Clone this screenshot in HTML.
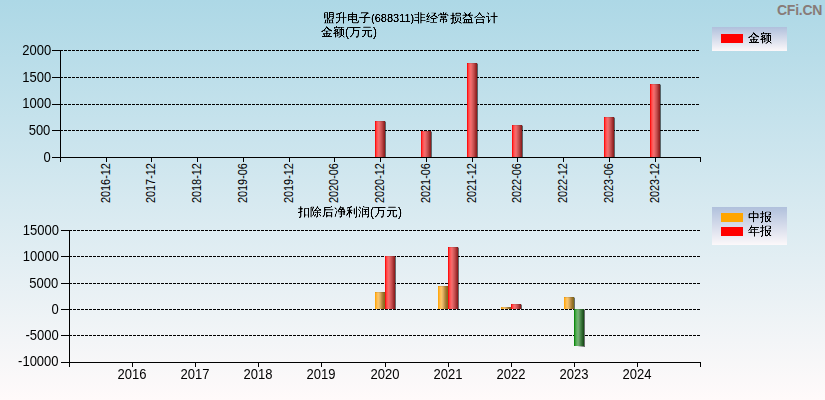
<!DOCTYPE html>
<html><head><meta charset="utf-8"><style>
html,body{margin:0;padding:0;width:825px;height:400px;overflow:hidden;}
body{position:relative;font-family:"Liberation Sans", sans-serif;color:#000;}
svg{position:absolute;left:0;top:0;}
.t{position:absolute;white-space:nowrap;line-height:1;}
.c{filter:url(#sh);}
.r{text-align:right;}
.rot{transform-origin:0 0;transform:rotate(-90deg) scaleX(0.905);}
.sx{transform-origin:100% 0;transform:scaleX(0.93);}
.yr{transform-origin:50% 0;transform:scaleX(0.93);text-align:center;width:40px;}
</style></head><body>
<svg width="825" height="400" shape-rendering="crispEdges">
<defs>
<linearGradient id="bg" x1="0" y1="0" x2="0" y2="1"><stop offset="0" stop-color="#add8e6"/><stop offset="1" stop-color="#fffafa"/></linearGradient>
<linearGradient id="lg" x1="0" y1="0" x2="0" y2="1"><stop offset="0" stop-color="#b0c0dc"/><stop offset="1" stop-color="#fcf8fa"/></linearGradient>
<linearGradient id="gr" x1="0" y1="0" x2="1" y2="0"><stop offset="0.05" stop-color="#ff1010"/><stop offset="0.15" stop-color="#ff4040"/><stop offset="0.25" stop-color="#ff5858"/><stop offset="0.35" stop-color="#f86868"/><stop offset="0.45" stop-color="#e86868"/><stop offset="0.55" stop-color="#d85c5c"/><stop offset="0.65" stop-color="#c85050"/><stop offset="0.75" stop-color="#b84040"/><stop offset="0.85" stop-color="#a03030"/><stop offset="0.95" stop-color="#902020"/></linearGradient>
<linearGradient id="go" x1="0" y1="0" x2="1" y2="0"><stop offset="0.05" stop-color="#ffa810"/><stop offset="0.15" stop-color="#ffb438"/><stop offset="0.25" stop-color="#ffc058"/><stop offset="0.35" stop-color="#fac468"/><stop offset="0.45" stop-color="#e8b868"/><stop offset="0.55" stop-color="#d8a858"/><stop offset="0.65" stop-color="#c09048"/><stop offset="0.75" stop-color="#a88038"/><stop offset="0.85" stop-color="#987028"/><stop offset="0.95" stop-color="#807020"/></linearGradient>
<linearGradient id="gg" x1="0" y1="0" x2="1" y2="0"><stop offset="0.05" stop-color="#0e8a10"/><stop offset="0.15" stop-color="#40a040"/><stop offset="0.25" stop-color="#5aae5a"/><stop offset="0.35" stop-color="#6cb26c"/><stop offset="0.45" stop-color="#70aa70"/><stop offset="0.55" stop-color="#609860"/><stop offset="0.65" stop-color="#4a884a"/><stop offset="0.75" stop-color="#3a743a"/><stop offset="0.85" stop-color="#2a602a"/><stop offset="0.95" stop-color="#1a501a"/></linearGradient>
<filter id="sh" x="-5%" y="-20%" width="110%" height="140%"><feComponentTransfer><feFuncA type="linear" slope="2.2" intercept="-0.35"/></feComponentTransfer></filter>
<linearGradient id="sg" x1="0" y1="0" x2="1" y2="0"><stop offset="0.3" stop-color="#000" stop-opacity="0"/><stop offset="1" stop-color="#000" stop-opacity="0.6"/></linearGradient>
</defs>
<rect x="0" y="0" width="825" height="400" fill="url(#bg)"/>
<line x1="60" y1="50.5" x2="700" y2="50.5" stroke="#000" stroke-dasharray="3 1"/>
<line x1="60" y1="77.5" x2="700" y2="77.5" stroke="#000" stroke-dasharray="3 1"/>
<line x1="60" y1="104.5" x2="700" y2="104.5" stroke="#000" stroke-dasharray="3 1"/>
<line x1="60" y1="130.5" x2="700" y2="130.5" stroke="#000" stroke-dasharray="3 1"/>
<line x1="52" y1="50.5" x2="60" y2="50.5" stroke="#000"/>
<line x1="52" y1="77.5" x2="60" y2="77.5" stroke="#000"/>
<line x1="52" y1="104.5" x2="60" y2="104.5" stroke="#000"/>
<line x1="52" y1="130.5" x2="60" y2="130.5" stroke="#000"/>
<line x1="52" y1="157.5" x2="60" y2="157.5" stroke="#000"/>
<line x1="60" y1="157.5" x2="701" y2="157.5" stroke="#000"/>
<line x1="60.5" y1="50" x2="60.5" y2="162" stroke="#000"/>
<line x1="106.5" y1="157" x2="106.5" y2="162" stroke="#000"/>
<line x1="151.5" y1="157" x2="151.5" y2="162" stroke="#000"/>
<line x1="197.5" y1="157" x2="197.5" y2="162" stroke="#000"/>
<line x1="243.5" y1="157" x2="243.5" y2="162" stroke="#000"/>
<line x1="289.5" y1="157" x2="289.5" y2="162" stroke="#000"/>
<line x1="334.5" y1="157" x2="334.5" y2="162" stroke="#000"/>
<line x1="380.5" y1="157" x2="380.5" y2="162" stroke="#000"/>
<line x1="426.5" y1="157" x2="426.5" y2="162" stroke="#000"/>
<line x1="472.5" y1="157" x2="472.5" y2="162" stroke="#000"/>
<line x1="517.5" y1="157" x2="517.5" y2="162" stroke="#000"/>
<line x1="563.5" y1="157" x2="563.5" y2="162" stroke="#000"/>
<line x1="609.5" y1="157" x2="609.5" y2="162" stroke="#000"/>
<line x1="655.5" y1="157" x2="655.5" y2="162" stroke="#000"/>
<line x1="700.5" y1="157" x2="700.5" y2="162" stroke="#000"/>
<rect x="385" y="122" width="1" height="35" fill="#000" fill-opacity="0.55"/>
<rect x="385" y="121" width="1" height="1" fill="#000" fill-opacity="0.2"/>
<rect x="375" y="121" width="10" height="36" fill="url(#gr)"/>
<rect x="375" y="121" width="10" height="1" fill="#000" fill-opacity="0.08"/>
<rect x="431" y="132" width="1" height="25" fill="#000" fill-opacity="0.55"/>
<rect x="431" y="131" width="1" height="1" fill="#000" fill-opacity="0.2"/>
<rect x="421" y="131" width="10" height="26" fill="url(#gr)"/>
<rect x="421" y="131" width="10" height="1" fill="#000" fill-opacity="0.08"/>
<rect x="477" y="64" width="1" height="93" fill="#000" fill-opacity="0.55"/>
<rect x="477" y="63" width="1" height="1" fill="#000" fill-opacity="0.2"/>
<rect x="467" y="63" width="10" height="94" fill="url(#gr)"/>
<rect x="467" y="63" width="10" height="1" fill="#000" fill-opacity="0.08"/>
<rect x="522" y="126" width="1" height="31" fill="#000" fill-opacity="0.55"/>
<rect x="522" y="125" width="1" height="1" fill="#000" fill-opacity="0.2"/>
<rect x="512" y="125" width="10" height="32" fill="url(#gr)"/>
<rect x="512" y="125" width="10" height="1" fill="#000" fill-opacity="0.08"/>
<rect x="614" y="118" width="1" height="39" fill="#000" fill-opacity="0.55"/>
<rect x="614" y="117" width="1" height="1" fill="#000" fill-opacity="0.2"/>
<rect x="604" y="117" width="10" height="40" fill="url(#gr)"/>
<rect x="604" y="117" width="10" height="1" fill="#000" fill-opacity="0.08"/>
<rect x="660" y="85" width="1" height="72" fill="#000" fill-opacity="0.55"/>
<rect x="660" y="84" width="1" height="1" fill="#000" fill-opacity="0.2"/>
<rect x="650" y="84" width="10" height="73" fill="url(#gr)"/>
<rect x="650" y="84" width="10" height="1" fill="#000" fill-opacity="0.08"/>
<line x1="69" y1="230.5" x2="700" y2="230.5" stroke="#000" stroke-dasharray="3 1"/>
<line x1="69" y1="256.5" x2="700" y2="256.5" stroke="#000" stroke-dasharray="3 1"/>
<line x1="69" y1="283.5" x2="700" y2="283.5" stroke="#000" stroke-dasharray="3 1"/>
<line x1="69" y1="309.5" x2="700" y2="309.5" stroke="#000" stroke-dasharray="3 1"/>
<line x1="69" y1="335.5" x2="700" y2="335.5" stroke="#000" stroke-dasharray="3 1"/>
<line x1="61" y1="230.5" x2="69" y2="230.5" stroke="#000"/>
<line x1="61" y1="256.5" x2="69" y2="256.5" stroke="#000"/>
<line x1="61" y1="283.5" x2="69" y2="283.5" stroke="#000"/>
<line x1="61" y1="309.5" x2="69" y2="309.5" stroke="#000"/>
<line x1="61" y1="335.5" x2="69" y2="335.5" stroke="#000"/>
<line x1="61" y1="362.5" x2="69" y2="362.5" stroke="#000"/>
<line x1="69" y1="362.5" x2="701" y2="362.5" stroke="#000"/>
<line x1="69.5" y1="230" x2="69.5" y2="367" stroke="#000"/>
<line x1="132.5" y1="362" x2="132.5" y2="367" stroke="#000"/>
<line x1="195.5" y1="362" x2="195.5" y2="367" stroke="#000"/>
<line x1="258.5" y1="362" x2="258.5" y2="367" stroke="#000"/>
<line x1="321.5" y1="362" x2="321.5" y2="367" stroke="#000"/>
<line x1="385.5" y1="362" x2="385.5" y2="367" stroke="#000"/>
<line x1="448.5" y1="362" x2="448.5" y2="367" stroke="#000"/>
<line x1="511.5" y1="362" x2="511.5" y2="367" stroke="#000"/>
<line x1="574.5" y1="362" x2="574.5" y2="367" stroke="#000"/>
<line x1="637.5" y1="362" x2="637.5" y2="367" stroke="#000"/>
<line x1="700.5" y1="362" x2="700.5" y2="367" stroke="#000"/>
<rect x="385" y="293" width="1" height="16" fill="#000" fill-opacity="0.55"/>
<rect x="385" y="292" width="1" height="1" fill="#000" fill-opacity="0.2"/>
<rect x="375" y="292" width="10" height="17" fill="url(#go)"/>
<rect x="375" y="292" width="10" height="1" fill="#000" fill-opacity="0.08"/>
<rect x="395" y="257" width="1" height="52" fill="#000" fill-opacity="0.55"/>
<rect x="395" y="256" width="1" height="1" fill="#000" fill-opacity="0.2"/>
<rect x="385" y="256" width="10" height="53" fill="url(#gr)"/>
<rect x="385" y="256" width="10" height="1" fill="#000" fill-opacity="0.08"/>
<rect x="448" y="287" width="1" height="22" fill="#000" fill-opacity="0.55"/>
<rect x="448" y="286" width="1" height="1" fill="#000" fill-opacity="0.2"/>
<rect x="438" y="286" width="10" height="23" fill="url(#go)"/>
<rect x="438" y="286" width="10" height="1" fill="#000" fill-opacity="0.08"/>
<rect x="458" y="248" width="1" height="61" fill="#000" fill-opacity="0.55"/>
<rect x="458" y="247" width="1" height="1" fill="#000" fill-opacity="0.2"/>
<rect x="448" y="247" width="10" height="62" fill="url(#gr)"/>
<rect x="448" y="247" width="10" height="1" fill="#000" fill-opacity="0.08"/>
<rect x="511" y="308" width="1" height="1" fill="#000" fill-opacity="0.55"/>
<rect x="511" y="307" width="1" height="1" fill="#000" fill-opacity="0.2"/>
<rect x="501" y="307" width="10" height="2" fill="url(#go)"/>
<rect x="501" y="307" width="10" height="1" fill="#000" fill-opacity="0.08"/>
<rect x="521" y="305" width="1" height="4" fill="#000" fill-opacity="0.55"/>
<rect x="521" y="304" width="1" height="1" fill="#000" fill-opacity="0.2"/>
<rect x="511" y="304" width="10" height="5" fill="url(#gr)"/>
<rect x="511" y="304" width="10" height="1" fill="#000" fill-opacity="0.08"/>
<rect x="574" y="298" width="1" height="11" fill="#000" fill-opacity="0.55"/>
<rect x="574" y="297" width="1" height="1" fill="#000" fill-opacity="0.2"/>
<rect x="564" y="297" width="10" height="12" fill="url(#go)"/>
<rect x="564" y="297" width="10" height="1" fill="#000" fill-opacity="0.08"/>
<rect x="584" y="310" width="1" height="36" fill="#000" fill-opacity="0.55"/>
<rect x="584" y="309" width="1" height="1" fill="#000" fill-opacity="0.2"/>
<rect x="574" y="346" width="11" height="1" fill="url(#sg)"/>
<rect x="574" y="309" width="10" height="37" fill="url(#gg)"/>
<rect x="574" y="309" width="10" height="1" fill="#000" fill-opacity="0.08"/>
<rect x="712" y="27" width="75" height="24" fill="url(#lg)"/>
<rect x="721" y="34" width="22" height="9" fill="#ff0000"/>
<rect x="712" y="207" width="75" height="38" fill="url(#lg)"/>
<rect x="721" y="213" width="22" height="9" fill="#ffa500"/>
<rect x="721" y="227" width="22" height="9" fill="#ff0000"/>
</svg>
<div class="t r sx" style="right:773.5px;top:43px;font-size:14px">2000</div>
<div class="t r sx" style="right:773.5px;top:70px;font-size:14px">1500</div>
<div class="t r sx" style="right:773.5px;top:96px;font-size:14px">1000</div>
<div class="t r sx" style="right:775px;top:123px;font-size:14px">500</div>
<div class="t r sx" style="right:774.5px;top:150px;font-size:14px">0</div>
<div class="t r sx" style="right:766.5px;top:223px;font-size:14px">15000</div>
<div class="t r sx" style="right:766.5px;top:249px;font-size:14px">10000</div>
<div class="t r sx" style="right:766.5px;top:276px;font-size:14px">5000</div>
<div class="t r sx" style="right:766.5px;top:302px;font-size:14px">0</div>
<div class="t r sx" style="right:766.5px;top:328px;font-size:14px">-5000</div>
<div class="t r sx" style="right:766.5px;top:354px;font-size:14px">-10000</div>
<div class="t rot" style="left:100px;top:203px;font-size:12px">2016-12</div>
<div class="t rot" style="left:145px;top:203px;font-size:12px">2017-12</div>
<div class="t rot" style="left:191px;top:203px;font-size:12px">2018-12</div>
<div class="t rot" style="left:237px;top:203px;font-size:12px">2019-06</div>
<div class="t rot" style="left:283px;top:203px;font-size:12px">2019-12</div>
<div class="t rot" style="left:328px;top:203px;font-size:12px">2020-06</div>
<div class="t rot" style="left:374px;top:203px;font-size:12px">2020-12</div>
<div class="t rot" style="left:420px;top:203px;font-size:12px">2021-06</div>
<div class="t rot" style="left:466px;top:203px;font-size:12px">2021-12</div>
<div class="t rot" style="left:511px;top:203px;font-size:12px">2022-06</div>
<div class="t rot" style="left:557px;top:203px;font-size:12px">2022-12</div>
<div class="t rot" style="left:603px;top:203px;font-size:12px">2023-06</div>
<div class="t rot" style="left:649px;top:203px;font-size:12px">2023-12</div>
<div class="t yr" style="left:112px;top:367px;font-size:14px">2016</div>
<div class="t yr" style="left:175px;top:367px;font-size:14px">2017</div>
<div class="t yr" style="left:238px;top:367px;font-size:14px">2018</div>
<div class="t yr" style="left:301px;top:367px;font-size:14px">2019</div>
<div class="t yr" style="left:365px;top:367px;font-size:14px">2020</div>
<div class="t yr" style="left:428px;top:367px;font-size:14px">2021</div>
<div class="t yr" style="left:491px;top:367px;font-size:14px">2022</div>
<div class="t yr" style="left:554px;top:367px;font-size:14px">2023</div>
<div class="t yr" style="left:617px;top:367px;font-size:14px">2024</div>
<div class="t c" style="left:323px;top:12px;font-size:12px">盟升电子<span style="font-size:11px">(688311)</span>非经常损益合计</div>
<div class="t c" style="left:321px;top:26px;font-size:12px">金额(万元)</div>
<div class="t c" style="left:298px;top:206px;font-size:12px">扣除后净利润(万元)</div>
<div class="t c" style="left:748px;top:32px;font-size:12px">金额</div>
<div class="t c" style="left:748px;top:211px;font-size:12px">中报</div>
<div class="t c" style="left:748px;top:225px;font-size:12px">年报</div>
<div class="t" style="left:777px;top:3px;font-size:14px;font-weight:bold;color:#887b78;letter-spacing:-0.25px">CFi.CN</div>
</body></html>
